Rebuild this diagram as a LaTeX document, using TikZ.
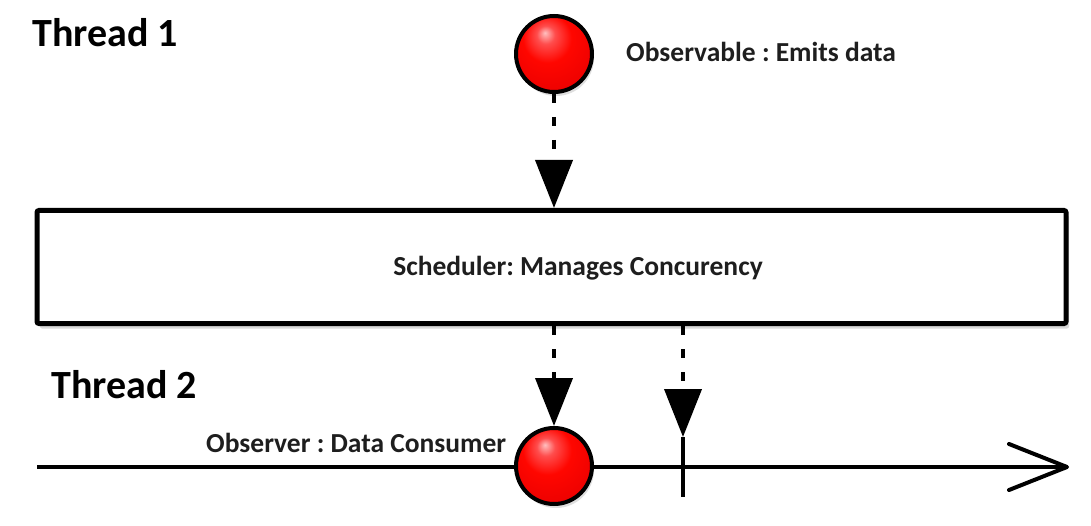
\documentclass[tikz,border=0pt]{standalone}
\usepackage{fontspec}
\setmainfont{Carlito}
\usetikzlibrary{arrows.meta,shadows,calc}
\definecolor{txt}{HTML}{1E1E1E}
\pgfdeclareradialshading{redball}{\pgfpoint{-6bp}{14bp}}{%
  color(0bp)=(white!75!red); color(6bp)=(red!70!white); color(16bp)=(red!95!orange);
  color(34bp)=(red!92!black); color(50bp)=(red!60!black); color(60bp)=(red!50!black)}
\frenchspacing
\tikzset{
  big/.style={font=\bfseries\fontsize{40}{48}\selectfont, text=black, inner sep=0pt, anchor=base west},
  small/.style={font=\bfseries\fontsize{27.5}{32}\selectfont, text=txt, inner sep=0pt},
  ballnode/.style={circle, inner sep=0pt, minimum size=76pt, draw=black, line width=4pt,
     shading=redball, drop shadow={opacity=0.25, shadow xshift=2pt, shadow yshift=-4pt}},
  schedbox/.style={draw=black, line width=5pt, rounded corners=2pt, fill=white,
     drop shadow={opacity=0.3, shadow xshift=3pt, shadow yshift=-5pt}},
  dashconn/.style={line width=4pt, dash pattern=on 9pt off 14pt,
     -{Triangle[length=48pt,width=37pt]}},
}
\begin{document}
\begin{tikzpicture}[x=1pt,y=-1pt]
\useasboundingbox (0,0) rectangle (1091,526);
% labels
\node[big] (t1) at (32,47) {Thread 1};
\node[big] (t2) at (51,398) {Thread 2};
% scheduler box
\node[schedbox, minimum width=1029pt, minimum height=113pt, inner sep=0pt] (sched) at (551.5,267) {};
\node[small] (schedtxt) at (578,268) {Scheduler: Manages Concurency};
% observable
\node[ballnode] (b1) at (554,54) {};
\node[small, anchor=base west] (obs) at (626,62) {Observable : Emits data};
% timeline
\coordinate (tlstart) at (37,467);
\coordinate (tlend) at (1069,467);
\draw[line width=4pt, -{Straight Barb[length=58pt,width=46pt,line width=4pt,round]}] (tlstart) -- (tlend);
\node[small, anchor=base west] (obsr) at (206,452) {Observer : Data Consumer};
% observer ball
\node[ballnode] (b2) at (554,466) {};
% tick
\coordinate (ticktop) at (683,437);
\coordinate (tickbot) at (683,497);
\draw[line width=4.5pt] (ticktop) -- (tickbot);
% connectors
\draw[dashconn] (b1.south) -- (b1.south |- sched.north);
\draw[dashconn] (b2.north |- sched.south) -- (b2.north);
\draw[dashconn] (ticktop |- sched.south) -- (ticktop);
\end{tikzpicture}
\end{document}
